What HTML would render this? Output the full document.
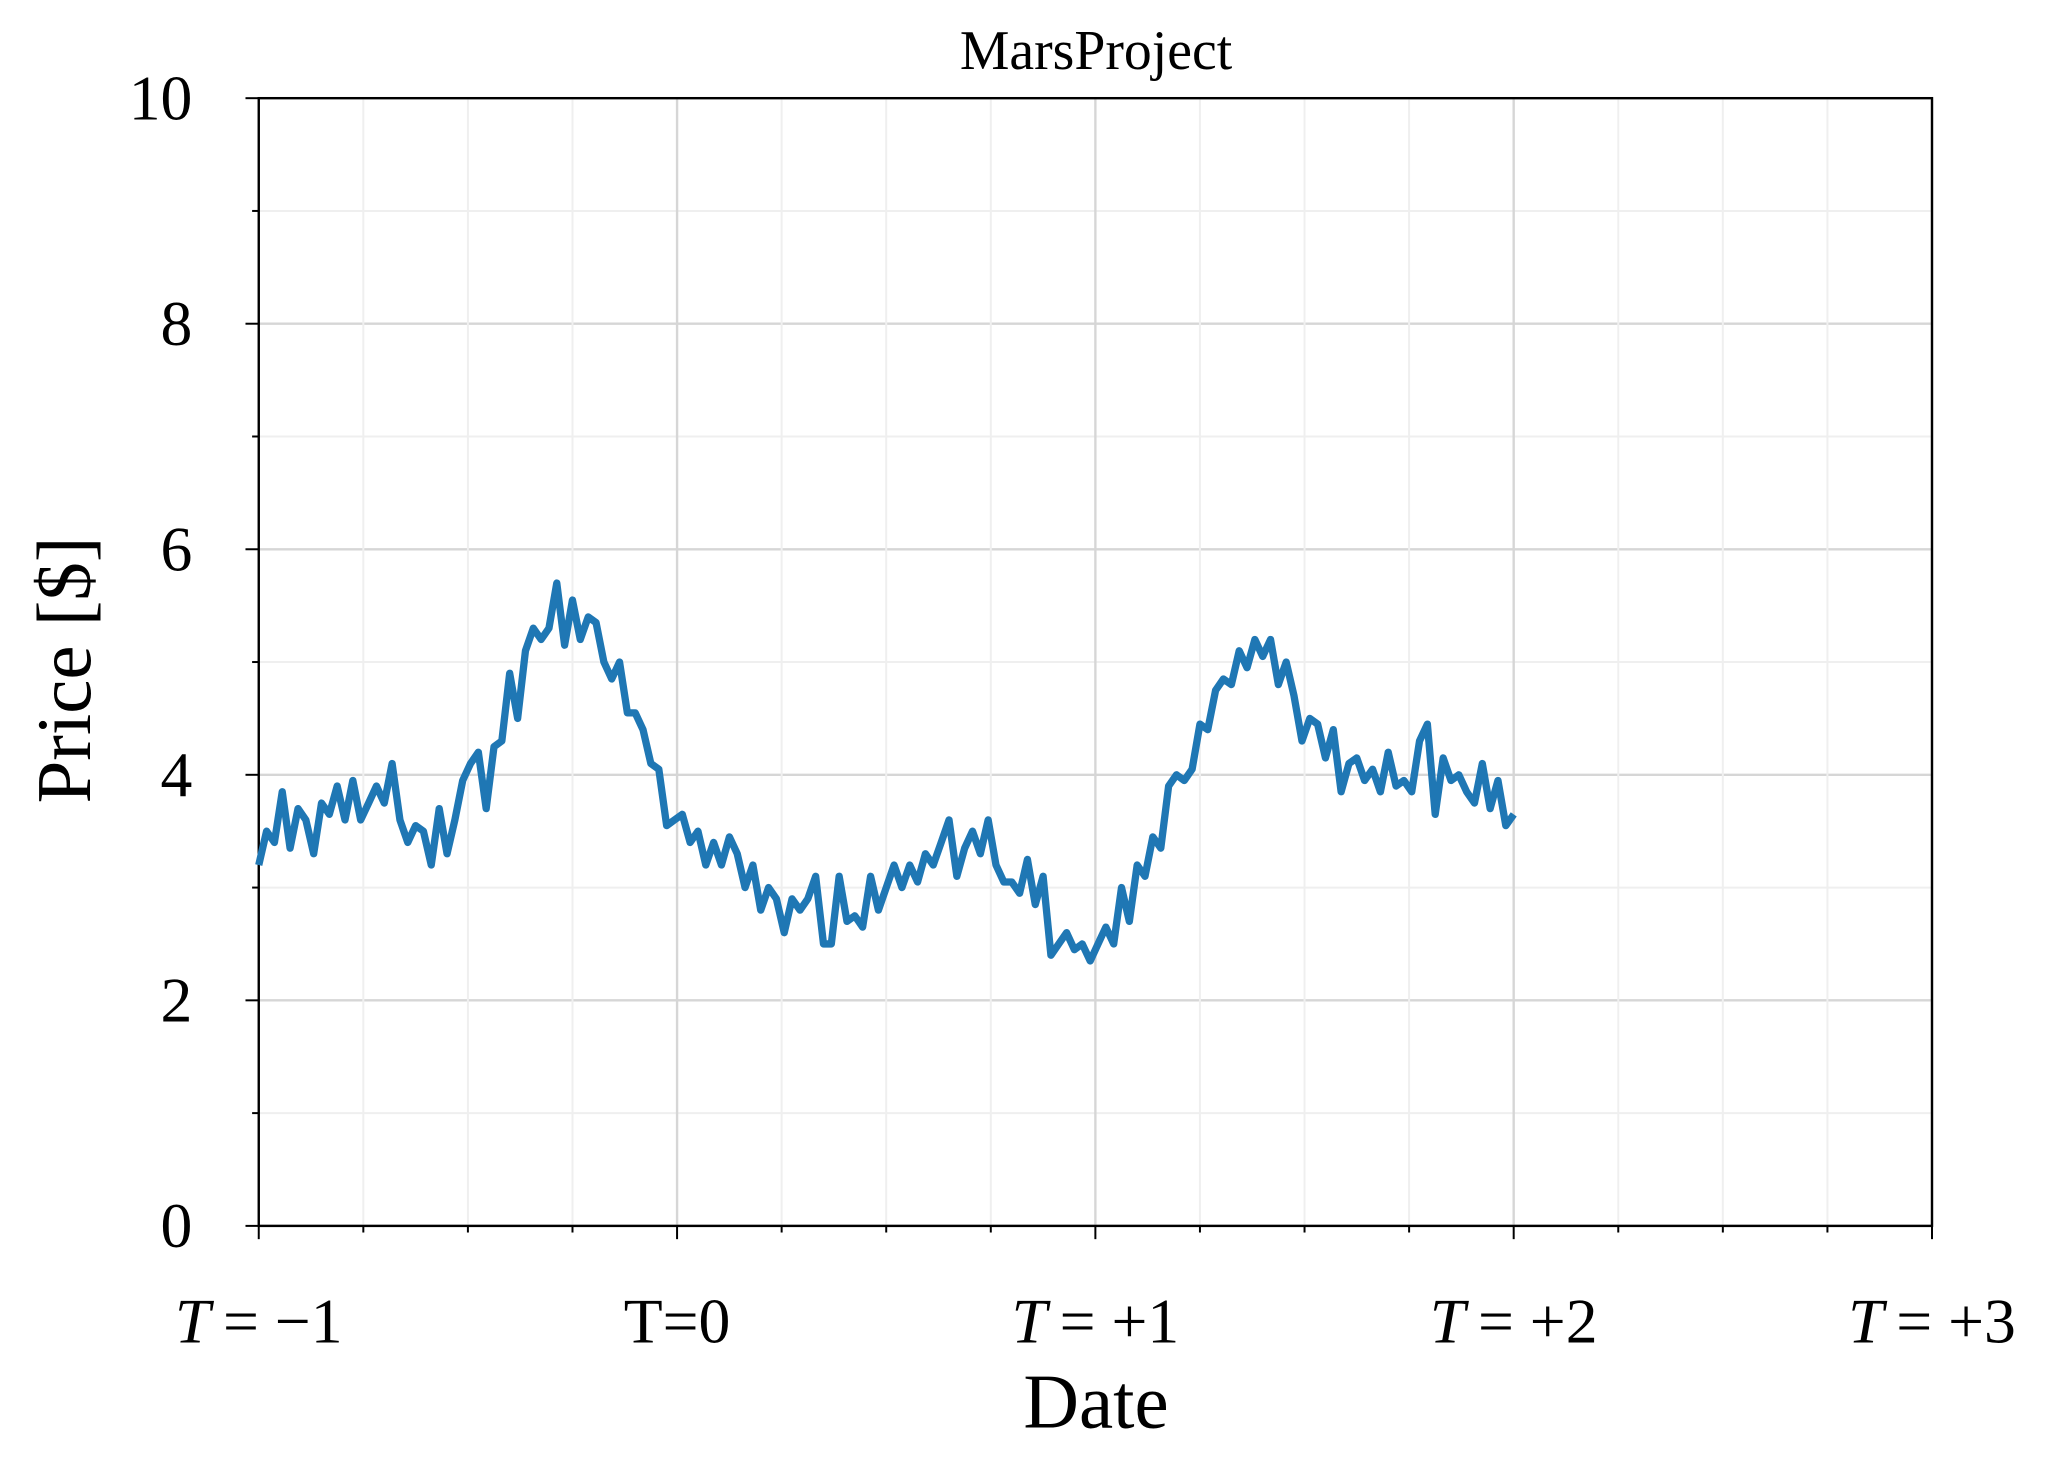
<!DOCTYPE html>
<html><head><meta charset="utf-8"><style>html,body{margin:0;padding:0;background:#fff}svg{display:block}text{font-family:"Liberation Serif",serif;fill:#000}</style></head>
<body>
<svg id="chart" width="2070" height="1470" viewBox="0 0 1560 1108" preserveAspectRatio="none" xmlns="http://www.w3.org/2000/svg">
<g id="grid"></g><g id="axes"></g><g id="series"></g>
<text x="826" y="52" font-size="42" text-anchor="middle">MarsProject</text>
<text x="826" y="1076" font-size="58" text-anchor="middle">Date</text>
<text x="0" y="0" font-size="58" text-anchor="middle" transform="translate(68,505) rotate(-90)">Price [$]</text>
</svg>
<script>
const xTickValues=[-1,0,1,2,3];
const xTickLabels=["\u2009= \u22121","T=0","\u2009= +1","\u2009= +2","\u2009= +3"];
const yTickValues=[0,2,4,6,8,10];
const yTickLabels=["0","2","4","6","8","10"];
const tStart=-1, tEnd=2;
const prices=[3.2,3.5,3.4,3.85,3.35,3.7,3.6,3.3,3.75,3.65,3.9,3.6,3.95,3.6,3.75,3.9,3.75,4.1,3.6,3.4,3.55,3.5,3.2,3.7,3.3,3.6,3.95,4.1,4.2,3.7,4.25,4.3,4.9,4.5,5.1,5.3,5.2,5.3,5.7,5.15,5.55,5.2,5.4,5.35,5.0,4.85,5.0,4.55,4.55,4.4,4.1,4.05,3.55,3.6,
3.65,3.4,3.5,3.2,3.4,3.2,3.45,3.3,3.0,3.2,2.8,3.0,2.9,2.6,2.9,2.8,2.9,3.1,2.5,2.5,3.1,2.7,2.75,2.65,3.1,2.8,3.0,3.2,3.0,3.2,3.05,3.3,3.2,3.4,3.6,3.1,3.35,3.5,3.3,3.6,3.2,3.05,3.05,2.95,3.25,2.85,3.1,2.4,2.5,2.6,2.45,2.5,2.35,
2.5,2.65,2.5,3.0,2.7,3.2,3.1,3.45,3.35,3.9,4.0,3.95,4.05,4.45,4.4,4.75,4.85,4.8,5.1,4.95,5.2,5.05,5.2,4.8,5.0,4.7,4.3,4.5,4.45,4.15,4.4,3.85,4.1,4.15,3.95,4.05,3.85,4.2,3.9,3.95,3.85,4.3,4.45,3.65,4.15,3.95,4.0,3.85,3.75,4.1,3.7,3.95,3.55,3.65];
const L=195,R=1456,T=74,B=924;
const xs=t=>L+(t+1)/4*(R-L);
const ys=v=>B-v/10*(B-T);
const NS="http://www.w3.org/2000/svg";
function mk(tag,attrs,parent){const e=document.createElementNS(NS,tag);for(const k in attrs)e.setAttribute(k,attrs[k]);parent.appendChild(e);return e;}
const grid=document.getElementById('grid'),axes=document.getElementById('axes'),ser=document.getElementById('series');
for(let v=0;v<=10;v+=1){const l=mk('line',{x1:L,x2:R,y1:ys(v),y2:ys(v),stroke:v%2?'#efefef':'#d6d6d6','stroke-width':v%2?1.5:1.8},grid);


const tk=mk('line',{x1:L,x2:L-(v%2?5:10),y1:ys(v),y2:ys(v),stroke:'#000','stroke-width':1.5},axes);

}
for(let q=0;q<=16;q++){const t=-1+q*0.25;const maj=q%4===0;
const l=mk('line',{x1:xs(t),x2:xs(t),y1:T,y2:B,stroke:maj?'#d6d6d6':'#efefef','stroke-width':maj?1.8:1.5},grid);


const tk=mk('line',{x1:xs(t),x2:xs(t),y1:B,y2:B+(maj?10:5),stroke:'#000','stroke-width':1.5},axes);

}
yTickValues.forEach((v,i)=>{const t=mk('text',{x:L-50,y:ys(v)+16,'font-size':48,'text-anchor':'end'},axes);t.textContent=yTickLabels[i];

});
xTickValues.forEach((v,i)=>{const t=mk('text',{x:xs(v),y:1012,'font-size':48,'text-anchor':'middle'},axes);
if(i===1){t.textContent=xTickLabels[i];}else{const a=mk('tspan',{'font-style':'italic'},t);a.textContent='T';const b=mk('tspan',{},t);b.textContent=xTickLabels[i];}

});
const fr=mk('rect',{x:L,y:T,width:R-L,height:B-T,fill:'none',stroke:'#000','stroke-width':1.8},axes);


const n=prices.length;
const pts=prices.map((p,i)=>{const t=tStart+i*(tEnd-tStart)/(n-1);return xs(t).toFixed(1)+','+ys(p).toFixed(1);}).join(' ');
const pl=mk('polyline',{points:pts,fill:'none',stroke:'#1f77b4','stroke-width':5.5,'stroke-linejoin':'round'},ser);


</script>
</body></html>
